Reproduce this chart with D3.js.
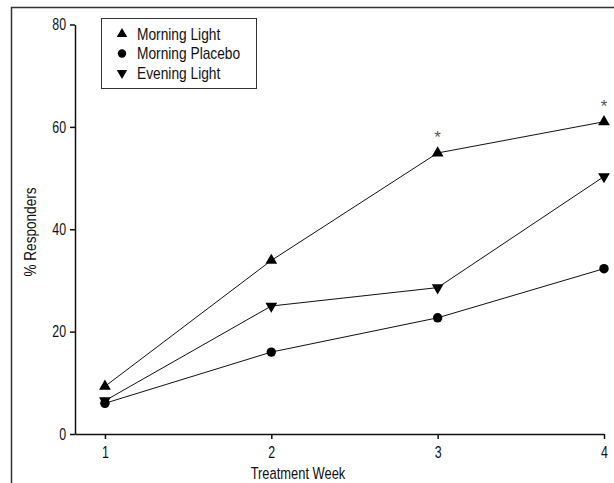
<!DOCTYPE html>
<html>
<head>
<meta charset="utf-8">
<script src="https://cdn.jsdelivr.net/npm/d3@7"></script>
<style>
  body { margin: 0; background: #fff; }
  svg text { font-family: "Liberation Sans", Arial, sans-serif; fill: #111; }
</style>
</head>
<body>
<svg id="chart"></svg>
<script>
(function(){
    "use strict";

    const width = 614,
        height = 483;

    // data
    const weeks = [1, 2, 3, 4];
    const morningLight = [9.3, 33.9, 54.9, 61.0];
    const morningPlacebo = [6.0, 16.0, 22.7, 32.3];
    const eveningLight = [6.5, 25.0, 28.6, 50.3];
    const yTicks = [0, 20, 40, 60, 80];
    const starWeeks = [3, 4];

    const series = [
        { name: "Morning Light", values: morningLight, symbol: d3.symbolTriangle, rot: 0 },
        { name: "Morning Placebo", values: morningPlacebo, symbol: d3.symbolCircle, rot: 0 },
        { name: "Evening Light", values: eveningLight, symbol: d3.symbolTriangle, rot: 180 }
    ];

    const svg = d3.select("svg#chart")
        .attr("width", width)
        .attr("height", height);

    // squeeze text horizontally around its own x (original type is condensed)
    function narrow(sel, k) {
        sel.each(function() {
            const t = d3.select(this);
            const x0 = +t.attr("x") || 0;
            t.attr("x", x0 / k)
                .attr("transform", (t.attr("transform") || "") + " scale(" + k + ",1)");
        });
    }

    // outer frame (runs off the right and bottom edges)
    svg.append("rect")
        .attr("x", 11.5).attr("y", 7.5)
        .attr("width", 700).attr("height", 600)
        .attr("fill", "none")
        .attr("stroke", "#333")
        .attr("stroke-width", 1.5);

    const x = d3.scaleLinear().domain([0.82, 4]).range([75, 604]);
    const y = d3.scaleLinear().domain([0, 80]).range([434, 24.5]);

    // axes
    const xAxis = svg.append("g")
        .attr("transform", "translate(0,434)")
        .call(d3.axisBottom(x).tickValues(weeks).tickFormat(d3.format("d")).tickSize(5).tickSizeOuter(0).tickPadding(7));
    const yAxis = svg.append("g")
        .attr("transform", "translate(75,0)")
        .call(d3.axisLeft(y).tickValues(yTicks).tickSize(5).tickSizeOuter(0).tickPadding(4));

    [xAxis, yAxis].forEach(function(g) {
        g.selectAll("path, line").attr("stroke", "#111").attr("stroke-width", 1.5);
        g.selectAll("text").attr("font-size", 16.5).attr("fill", "#111")
            .style("font-family", "'Liberation Sans', Arial, sans-serif")
            .call(narrow, 0.75);
    });

    svg.append("text")
        .attr("x", 298).attr("y", 479)
        .attr("text-anchor", "middle")
        .attr("font-size", 17)
        .text("Treatment Week")
        .call(narrow, 0.76);

    svg.append("text")
        .attr("transform", "translate(36,232) rotate(-90)")
        .attr("text-anchor", "middle")
        .attr("font-size", 17)
        .text("% Responders")
        .call(narrow, 0.8);

    // lines
    const line = d3.line()
        .x(function(d, i) { return x(weeks[i]); })
        .y(function(d) { return y(d); });

    svg.selectAll("path.series")
        .data(series)
        .enter().append("path")
        .attr("class", "series")
        .attr("d", function(s) { return line(s.values); })
        .attr("fill", "none")
        .attr("stroke", "#111")
        .attr("stroke-width", 1);

    // markers
    series.forEach(function(s) {
        const size = s.symbol === d3.symbolCircle ? 70 : 60;
        svg.selectAll(null)
            .data(s.values)
            .enter().append("path")
            .attr("d", d3.symbol().type(s.symbol).size(size))
            .attr("transform", function(d, i) {
                return "translate(" + x(weeks[i]) + "," + y(d) + ") rotate(" + s.rot + ")";
            })
            .attr("fill", "#000");
    });

    // significance stars
    svg.selectAll("text.star")
        .data(starWeeks)
        .enter().append("text")
        .attr("class", "star")
        .attr("x", function(w) { return x(w); })
        .attr("y", function(w) { return y(morningLight[weeks.indexOf(w)]) - 10; })
        .attr("text-anchor", "middle")
        .attr("font-size", 17)
        .style("fill", "#555")
        .text("*");

    // legend
    const legend = svg.append("g");
    legend.append("rect")
        .attr("x", 101.5).attr("y", 18.5)
        .attr("width", 155).attr("height", 70)
        .attr("fill", "#fff")
        .attr("stroke", "#333")
        .attr("stroke-width", 1);

    const rows = legend.selectAll("g.row")
        .data(series)
        .enter().append("g")
        .attr("class", "row")
        .attr("transform", function(d, i) { return "translate(122," + (34 + i * 19.5) + ")"; });
    rows.append("path")
        .attr("d", function(s) { return d3.symbol().type(s.symbol).size(s.symbol === d3.symbolCircle ? 55 : 48)(); })
        .attr("transform", function(s) { return "rotate(" + s.rot + ")"; })
        .attr("fill", "#000");
    rows.append("text")
        .attr("x", 15).attr("y", 5.5)
        .attr("font-size", 16)
        .text(function(s) { return s.name; })
        .call(narrow, 0.86);
})();
</script>
</body>
</html>
